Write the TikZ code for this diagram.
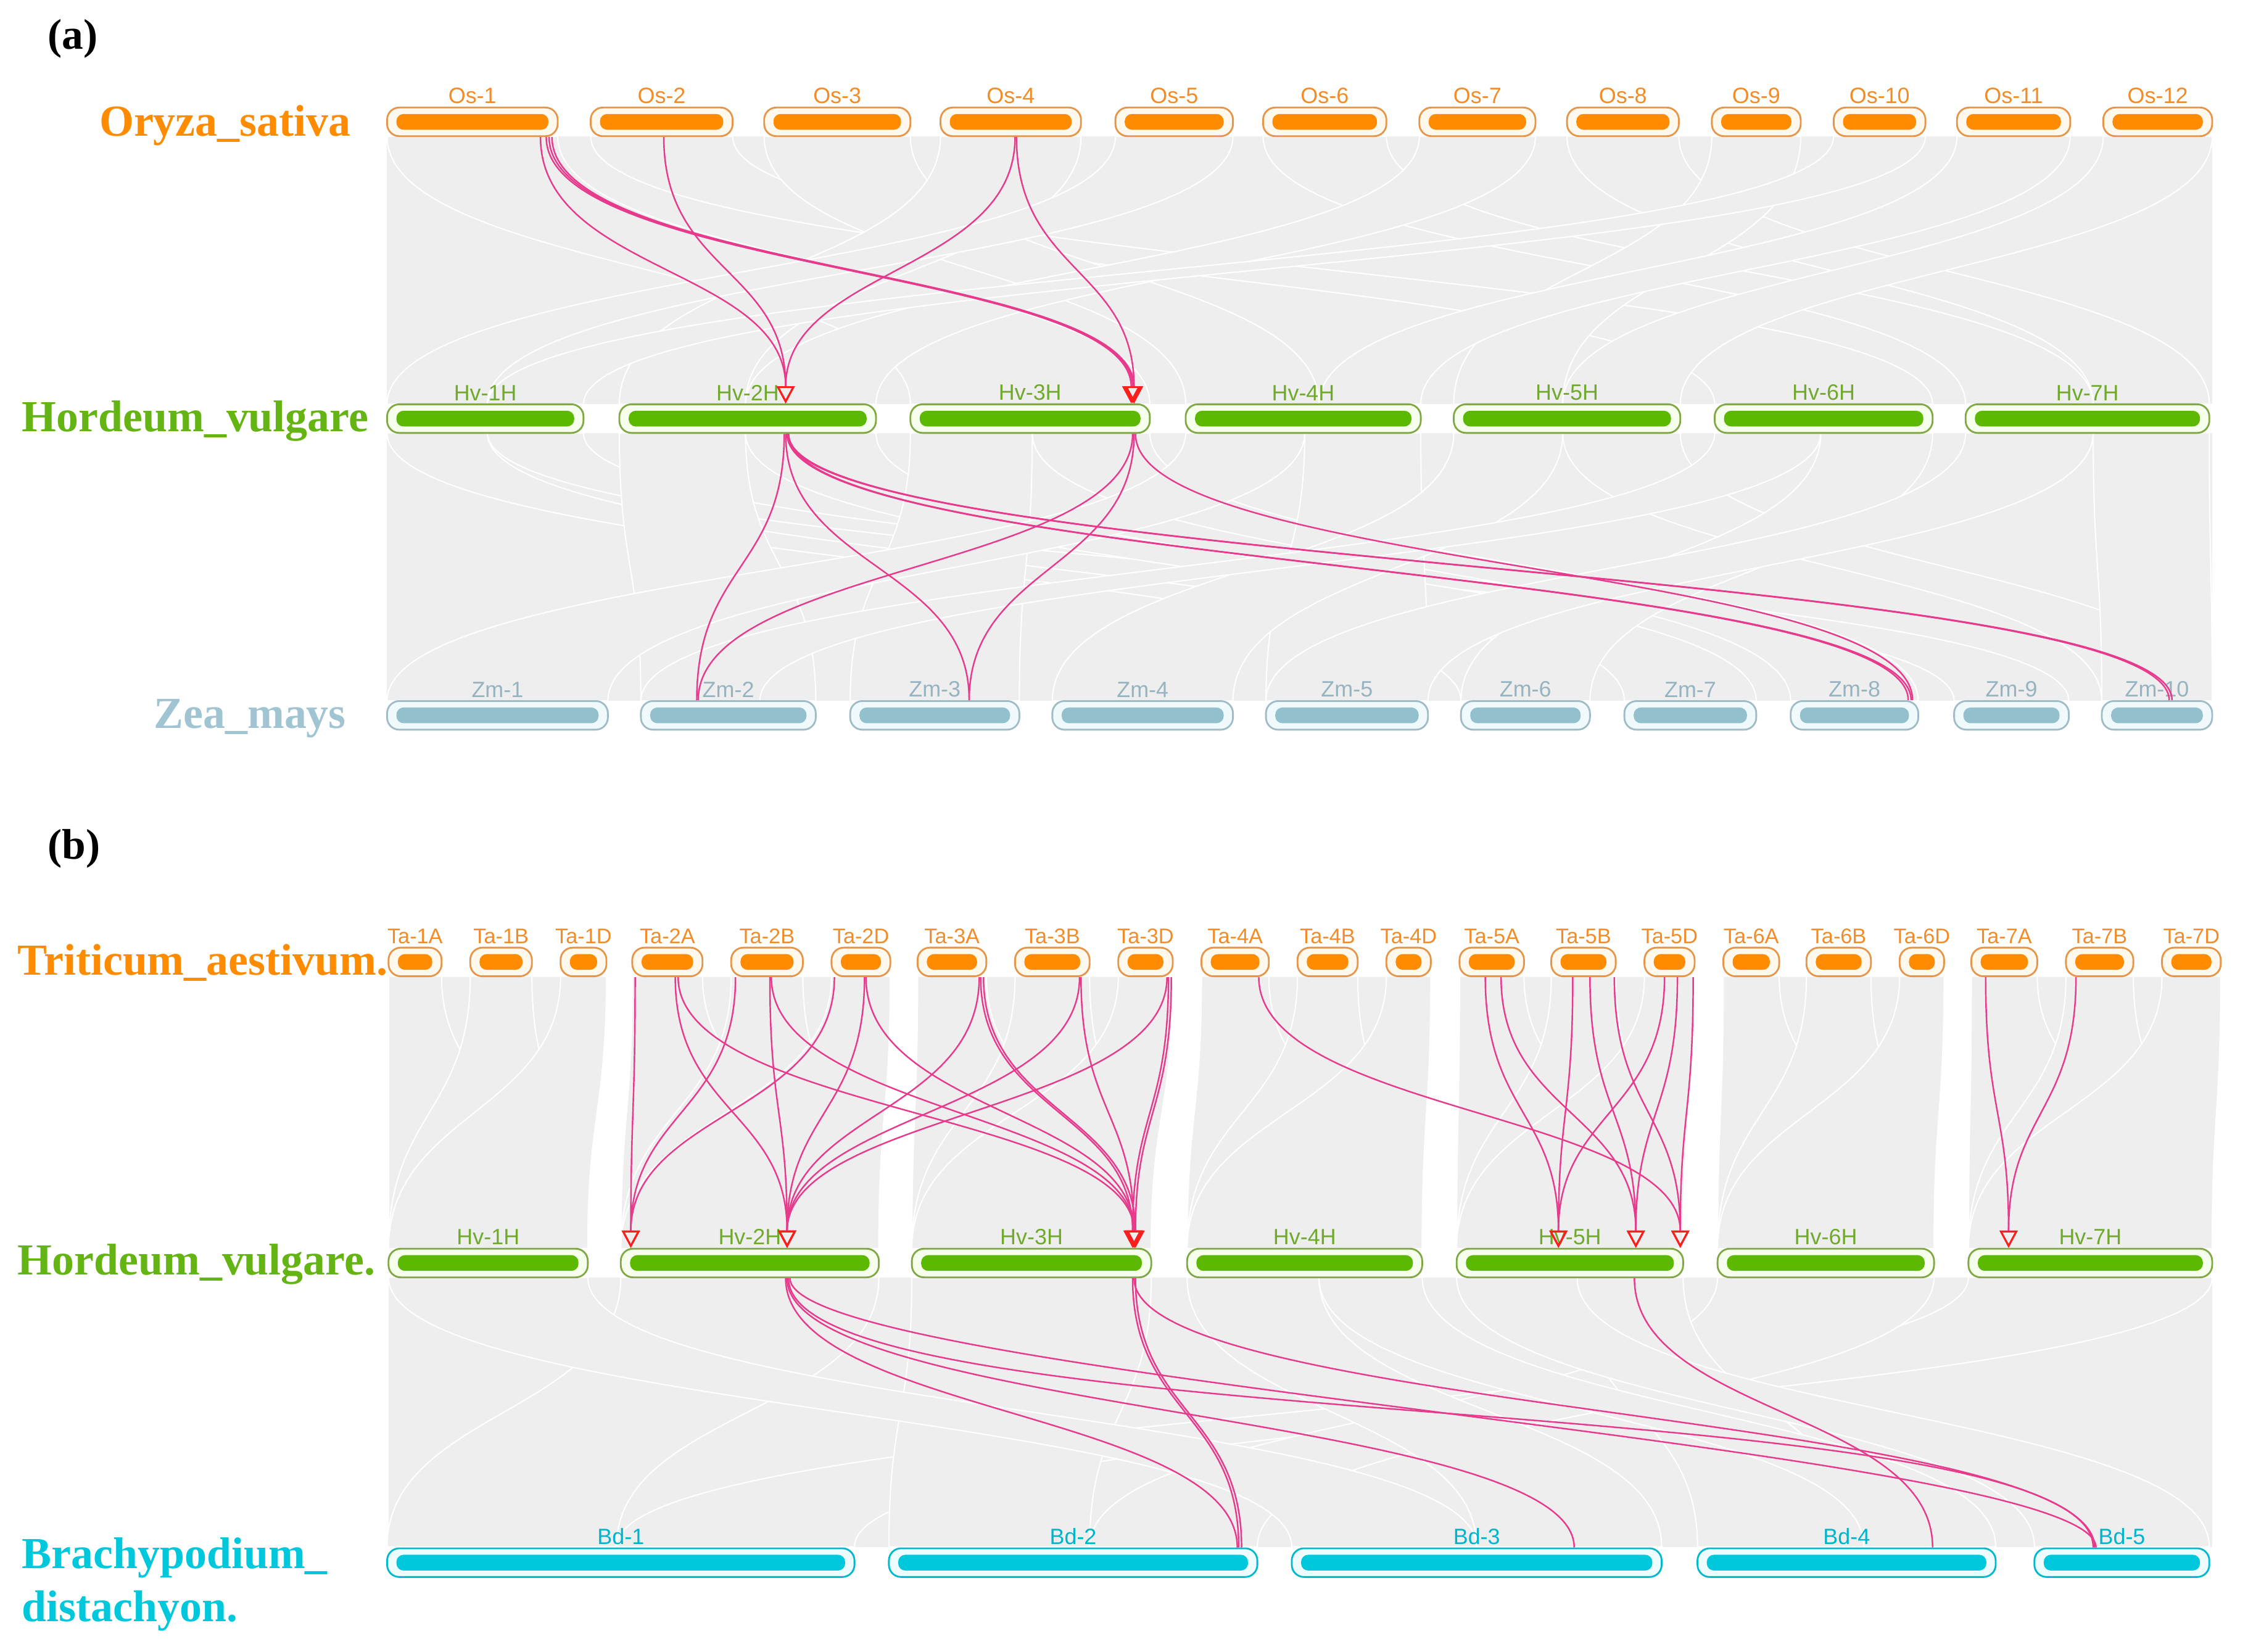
\documentclass[tikz,border=0pt]{standalone}
\usepackage{fontspec}
\setmainfont{Liberation Serif}
\newfontfamily\chrfont{Liberation Sans}
\usepackage{tikz}
\usetikzlibrary{arrows.meta}

\definecolor{osbar}{RGB}{255,140,0}
\definecolor{osline}{RGB}{230,150,75}
\definecolor{osfill}{RGB}{255,248,236}
\definecolor{oslabcol}{RGB}{242,140,40}
\definecolor{hvbar}{RGB}{92,184,0}
\definecolor{hvline}{RGB}{128,168,70}
\definecolor{hvfill}{RGB}{246,255,236}
\definecolor{hvlabcol}{RGB}{112,170,45}
\definecolor{hvname}{RGB}{100,180,20}
\definecolor{zmbar}{RGB}{146,192,204}
\definecolor{zmline}{RGB}{160,188,198}
\definecolor{zmfill}{RGB}{240,250,252}
\definecolor{zmlabcol}{RGB}{150,180,192}
\definecolor{zmname}{RGB}{160,196,210}
\definecolor{bdbar}{RGB}{0,200,220}
\definecolor{bdline}{RGB}{0,185,205}
\definecolor{bdfill}{RGB}{236,252,255}
\definecolor{bdlabcol}{RGB}{0,180,204}
\definecolor{linkcol}{RGB}{232,58,140}
\definecolor{arrcol}{RGB}{255,30,30}
\definecolor{bandcol}{RGB}{238,238,238}

\tikzset{
  chrom/.style n args={3}{draw=#1, fill=#2, line width=0.7pt, rounded corners=0.17cm,
    minimum height=0.4cm, inner sep=0pt,
    path picture={\fill[#3, rounded corners=0.1cm]
      ([xshift=0.13cm,yshift=0.09cm]path picture bounding box.south west) rectangle
      ([xshift=-0.13cm,yshift=-0.09cm]path picture bounding box.north east);}},
  os/.style={chrom={osline}{osfill}{osbar}},
  ta/.style={chrom={osline}{osfill}{osbar}},
  hv/.style={chrom={hvline}{hvfill}{hvbar}},
  zm/.style={chrom={zmline}{zmfill}{zmbar}},
  bd/.style={chrom={bdline}{bdfill}{bdbar}},
  oslab/.style={font=\chrfont\fontsize{8.8}{10}\selectfont, text=oslabcol, inner sep=1pt},
  talab/.style={font=\chrfont\fontsize{8.4}{10}\selectfont, text=oslabcol, inner sep=1pt},
  hvlab/.style={font=\chrfont\fontsize{8.8}{10}\selectfont, text=hvlabcol, inner sep=1pt},
  zmlab/.style={font=\chrfont\fontsize{8.8}{10}\selectfont, text=zmlabcol, inner sep=1pt},
  bdlab/.style={font=\chrfont\fontsize{8.8}{10}\selectfont, text=bdlabcol, inner sep=1pt},
  species/.style={font=\bfseries\fontsize{17.6}{20}\selectfont, anchor=base west, inner sep=0pt},
  panel/.style={font=\bfseries\fontsize{17}{20}\selectfont, anchor=base west, inner sep=0pt},
  link/.style={draw=linkcol, line width=0.6pt},
  arr/.style={-{Triangle[open, color=arrcol, length=2.4mm, width=2.5mm, line width=0.7pt]}},
  band/.style={fill=bandcol, draw=white, line width=0.5pt},
  bend gap/.store in=\ctl, bend gap=94
}

% chromosome: name, label, left x, right x, y, kind
\newcommand{\chr}[6]{\node[#6, minimum width={(#4-#3)*0.02cm}, label={[#6lab]above:#2}] (#1) at ({(#3+#4)/2},#5) {};}
% grey block: top x1 x2 y1, bottom x3 x4 y2
\newcommand{\band}[6]{\filldraw[band] (#1,#3) -- (#2,#3) .. controls +(0,-94) and +(0,94) .. (#5,#6) -- (#4,#6) .. controls +(0,94) and +(0,-94) .. (#1,#3) -- cycle;}
% gene pair link
\newcommand{\syn}[5][]{\draw[link,#1] (#2.south -| #3,0) .. controls +(0,-\ctl) and +(0,\ctl) .. (#4.north -| #5,0);}

\begin{document}
\begin{tikzpicture}[x=0.02cm, y=0.02cm]
\useasboundingbox (0,0) rectangle (1568,-1152);

% grey collinear blocks
\fill[bandcol] (270,-95) rectangle (1543,-282);
\fill[bandcol] (270,-302) rectangle (1543,-489);
\fill[bandcol] (271,-891) rectangle (1543,-1079);
\foreach \a/\b/\c/\d in {270/389/635/802, 412/511/1196/1348, 533/635/827/920, 656/754/432/520,
  778/860/270/340, 881/967/1371/1460, 990/1071/520/611, 1093/1171/1460/1541,
  1194/1256/1014/1090, 1279/1343/340/407, 1365/1444/920/991, 1467/1543/1090/1172}
  {\band{\a}{\b}{-95}{\c}{\d}{-282}}
\foreach \a/\b/\c/\d in {270/340/1019/1109, 340/407/1363/1443, 432/520/447/569, 520/611/1133/1225,
  635/720/593/711, 720/802/1249/1338, 827/910/270/424, 910/991/883/996,
  1014/1090/734/860, 1090/1172/1466/1543, 1196/1270/447/530, 1270/1348/1019/1109,
  1371/1460/883/996, 1460/1541/1466/1543}
  {\band{\a}{\b}{-302}{\c}{\d}{-489}}
\foreach \a/\b/\c/\d in {271/423/271/410, 441/621/433/613, 640/818/636/803, 838/998/828/992,
  1018/1182/1016/1174, 1202/1356/1198/1349, 1375/1549/1373/1543}
  {\band{\a}{\b}{-681}{\c}{\d}{-871}}
\foreach \a/\b/\c/\d in {271/308/271/410, 328/371/271/410, 391/423/271/410,
  441/490/433/613, 510/560/433/613, 580/621/433/613,
  640/688/636/803, 708/760/636/803, 780/818/636/803,
  838/885/828/992, 905/947/828/992, 967/998/828/992,
  1018/1063/1016/1174, 1082/1127/1016/1174, 1147/1182/1016/1174,
  1202/1241/1198/1349, 1260/1305/1198/1349, 1325/1356/1198/1349,
  1375/1421/1373/1543, 1441/1488/1373/1543, 1508/1549/1373/1543}
  {\band{\a}{\b}{-681}{\c}{\d}{-871}}
\foreach \a/\b/\c/\d in {433/613/270/430, 1373/1543/430/596, 636/803/620/760, 1198/1349/760/877,
  271/410/901/1030, 828/920/1030/1159, 1100/1174/1184/1300, 920/992/1300/1392,
  1016/1100/1419/1541}
  {\band{\a}{\b}{-891}{\c}{\d}{-1079}}

% panel a
\node[panel] (pa) at (33,-34) {(a)};
\node[species, text=osbar] (osname) at (69,-95) {Oryza\_sativa};
\node[species, text=hvname] (hvaname) at (15,-301) {Hordeum\_vulgare};
\node[species, text=zmname] (zmname) at (107,-508) {Zea\_mays};

\foreach \n/\l/\a/\b in {Os1/Os-1/270/389, Os2/Os-2/412/511, Os3/Os-3/533/635, Os4/Os-4/656/754,
  Os5/Os-5/778/860, Os6/Os-6/881/967, Os7/Os-7/990/1071, Os8/Os-8/1093/1171,
  Os9/Os-9/1194/1256, Os10/Os-10/1279/1343, Os11/Os-11/1365/1444, Os12/Os-12/1467/1543}
  {\chr{\n}{\l}{\a}{\b}{-85}{os}}
\foreach \n/\l/\a/\b in {HvA1/Hv-1H/270/407, HvA2/Hv-2H/432/611, HvA3/Hv-3H/635/802,
  HvA4/Hv-4H/827/991, HvA5/Hv-5H/1014/1172, HvA6/Hv-6H/1196/1348, HvA7/Hv-7H/1371/1541}
  {\chr{\n}{\l}{\a}{\b}{-292}{hv}}
\foreach \n/\l/\a/\b in {Zm1/Zm-1/270/424, Zm2/Zm-2/447/569, Zm3/Zm-3/593/711, Zm4/Zm-4/734/860,
  Zm5/Zm-5/883/996, Zm6/Zm-6/1019/1109, Zm7/Zm-7/1133/1225, Zm8/Zm-8/1249/1338,
  Zm9/Zm-9/1363/1443, Zm10/Zm-10/1466/1543}
  {\chr{\n}{\l}{\a}{\b}{-499}{zm}}

\syn[arr]{Os1}{377}{HvA2}{548}
\syn[arr]{Os1}{381}{HvA3}{789}
\syn[arr]{Os1}{383}{HvA3}{790}
\syn[arr]{Os1}{385}{HvA3}{791}
\syn[arr]{Os2}{463}{HvA2}{548}
\syn[arr]{Os4}{708}{HvA2}{548}
\syn[arr]{Os4}{709}{HvA3}{791}

\syn{HvA2}{547}{Zm2}{486}
\syn{HvA2}{548}{Zm3}{676}
\syn{HvA2}{549}{Zm8}{1331}
\syn{HvA2}{550}{Zm8}{1333}
\syn{HvA2}{549}{Zm10}{1513}
\syn{HvA2}{550}{Zm10}{1515}
\syn{HvA3}{790}{Zm2}{487}
\syn{HvA3}{791}{Zm3}{676}
\syn{HvA3}{792}{Zm8}{1334}

% panel b
\node[panel] (pb) at (33,-599) {(b)};
\node[species, text=osbar] (taname) at (12,-680) {Triticum\_aestivum.};
\node[species, text=hvname] (hvbname) at (12,-889) {Hordeum\_vulgare.};
\node[species, text=bdbar] (bdname) at (15,-1094) {Brachypodium\_};
\node[species, text=bdbar] (bdname2) at (15,-1131) {distachyon.};

\foreach \n/\l/\a/\b in {Ta1A/Ta-1A/271/308, Ta1B/Ta-1B/328/371, Ta1D/Ta-1D/391/423,
  Ta2A/Ta-2A/441/490, Ta2B/Ta-2B/510/560, Ta2D/Ta-2D/580/621,
  Ta3A/Ta-3A/640/688, Ta3B/Ta-3B/708/760, Ta3D/Ta-3D/780/818,
  Ta4A/Ta-4A/838/885, Ta4B/Ta-4B/905/947, Ta4D/Ta-4D/967/998,
  Ta5A/Ta-5A/1018/1063, Ta5B/Ta-5B/1082/1127, Ta5D/Ta-5D/1147/1182,
  Ta6A/Ta-6A/1202/1241, Ta6B/Ta-6B/1260/1305, Ta6D/Ta-6D/1325/1356,
  Ta7A/Ta-7A/1375/1421, Ta7B/Ta-7B/1441/1488, Ta7D/Ta-7D/1508/1549}
  {\chr{\n}{\l}{\a}{\b}{-671}{ta}}
\foreach \n/\l/\a/\b in {HvB1/Hv-1H/271/410, HvB2/Hv-2H/433/613, HvB3/Hv-3H/636/803,
  HvB4/Hv-4H/828/992, HvB5/Hv-5H/1016/1174, HvB6/Hv-6H/1198/1349, HvB7/Hv-7H/1373/1543}
  {\chr{\n}{\l}{\a}{\b}{-881}{hv}}
\foreach \n/\l/\a/\b in {Bd1/Bd-1/270/596, Bd2/Bd-2/620/877, Bd3/Bd-3/901/1159,
  Bd4/Bd-4/1184/1392, Bd5/Bd-5/1419/1541}
  {\chr{\n}{\l}{\a}{\b}{-1090}{bd}}

\syn[arr]{Ta2A}{443}{HvB2}{440}
\syn[arr]{Ta2A}{471}{HvB2}{549}
\syn[arr]{Ta2A}{473}{HvB3}{791}
\syn[arr]{Ta2B}{513}{HvB2}{440}
\syn[arr]{Ta2B}{537}{HvB2}{549}
\syn[arr]{Ta2B}{538}{HvB3}{791}
\syn[arr]{Ta2D}{582}{HvB2}{440}
\syn[arr]{Ta2D}{603}{HvB2}{549}
\syn[arr]{Ta2D}{604}{HvB3}{791}
\syn[arr]{Ta3A}{683}{HvB2}{549}
\syn[arr]{Ta3A}{684}{HvB3}{790}
\syn[arr]{Ta3A}{686}{HvB3}{792}
\syn[arr]{Ta3B}{753}{HvB2}{549}
\syn[arr]{Ta3B}{754}{HvB3}{791}
\syn[arr]{Ta3D}{814}{HvB2}{549}
\syn[arr]{Ta3D}{815}{HvB3}{790}
\syn[arr]{Ta3D}{817}{HvB3}{792}
\syn[arr]{Ta4A}{878}{HvB5}{1172}
\syn[arr]{Ta5A}{1036}{HvB5}{1087}
\syn[arr]{Ta5A}{1047}{HvB5}{1141}
\syn[arr]{Ta5B}{1097}{HvB5}{1087}
\syn[arr]{Ta5B}{1109}{HvB5}{1141}
\syn[arr]{Ta5B}{1126}{HvB5}{1172}
\syn[arr]{Ta5D}{1161}{HvB5}{1087}
\syn[arr]{Ta5D}{1170}{HvB5}{1141}
\syn[arr]{Ta5D}{1181}{HvB5}{1172}
\syn[arr]{Ta7A}{1385}{HvB7}{1401}
\syn[arr]{Ta7B}{1448}{HvB7}{1401}

\syn{HvB2}{548}{Bd2}{863}
\syn{HvB2}{549}{Bd3}{1098}
\syn[bend gap=115]{HvB2}{550}{Bd5}{1460}
\syn[bend gap=70]{HvB2}{551}{Bd5}{1462}
\syn{HvB3}{790}{Bd2}{864}
\syn{HvB3}{792}{Bd2}{866}
\syn{HvB3}{791}{Bd5}{1461}
\syn{HvB5}{1140}{Bd4}{1348}
\end{tikzpicture}
\end{document}
